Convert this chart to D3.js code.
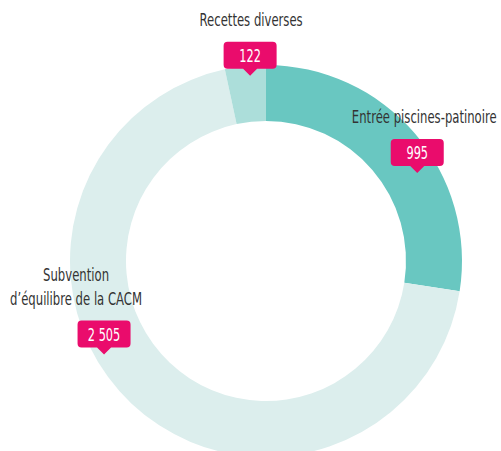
<!DOCTYPE html>
<html>
<head>
<meta charset="utf-8">
<script src="https://cdn.jsdelivr.net/npm/d3@7"></script>
<style>
  html, body { margin: 0; padding: 0; background: #fff; }
  svg { display: block; }
  text { font-family: "DejaVu Sans", sans-serif; font-stretch: condensed; }
</style>
</head>
<body>
<div id="chart"></div>
<script>
// data
const categories = ["Entrée piscines-patinoire", "Subvention\nd’équilibre de la CACM", "Recettes diverses"];
const values = [995, 2505, 122];
const colors = ["#69c7c1", "#dceeed", "#acdeda"];

// where each callout sits (angle in degrees, radius, text offset)
const calloutAngle = [59.8, 240, -4.9];
const calloutRadius = [175, 187, 186];
const textShift = [7, -28, 1];

const width = 501, height = 451;
const cx = 266, cy = 261;
const outerR = 196, innerR = 140;

// squeeze the text to look like the condensed face of the original
const labelSqueeze = 0.72;
const numberSqueeze = 0.7;

const fr = d3.formatLocale({ decimal: ",", thousands: "\u00a0", grouping: [3], currency: ["", " €"] });
const fmt = fr.format(",d");

const svg = d3.select("#chart").append("svg")
  .attr("width", width)
  .attr("height", height);

const g = svg.append("g").attr("transform", `translate(${cx},${cy})`);

const pie = d3.pie().sort(null).value(d => d);
const arc = d3.arc().innerRadius(innerR).outerRadius(outerR);

g.selectAll("path.slice")
  .data(pie(values))
  .enter()
  .append("path")
  .attr("class", "slice")
  .attr("d", arc)
  .attr("fill", (d, i) => colors[i]);

// callouts
const boxW = 53, boxH = 27, tipH = 7, tipW = 7;

const callouts = g.selectAll("g.callout")
  .data(values)
  .enter()
  .append("g")
  .attr("class", "callout")
  .attr("transform", (d, i) => {
    const p = d3.pointRadial(calloutAngle[i] * Math.PI / 180, calloutRadius[i]);
    return `translate(${p[0]},${p[1]})`;
  });

callouts.append("path")
  .attr("d", () => {
    const x0 = -boxW / 2, x1 = boxW / 2, y0 = -tipH - boxH, y1 = -tipH, r = 4;
    return `M${x0 + r},${y0} H${x1 - r} Q${x1},${y0} ${x1},${y0 + r} V${y1 - r} Q${x1},${y1} ${x1 - r},${y1}
      H${tipW} L0,0 L${-tipW},${y1} H${x0 + r} Q${x0},${y1} ${x0},${y1 - r} V${y0 + r} Q${x0},${y0} ${x0 + r},${y0} Z`;
  })
  .attr("fill", "#ea0c6c");

callouts.append("text")
  .attr("transform", `scale(${numberSqueeze},1)`)
  .attr("x", 0)
  .attr("y", -tipH - boxH / 2 + 6.5)
  .attr("text-anchor", "middle")
  .attr("fill", "#fff")
  .attr("font-size", 18)
  .text(d => fmt(d));

const labelText = callouts.append("text")
  .attr("transform", `scale(${labelSqueeze},1)`)
  .attr("text-anchor", "middle")
  .attr("fill", "#333")
  .attr("font-size", 18);

labelText.each(function(d, i) {
  const lines = categories[i].split("\n");
  const t = d3.select(this);
  lines.forEach((line, j) => {
    t.append("tspan")
      .attr("x", textShift[i] / labelSqueeze)
      .attr("y", -50 - (lines.length - 1 - j) * 23.5)
      .text(line);
  });
});
</script>
</body>
</html>
